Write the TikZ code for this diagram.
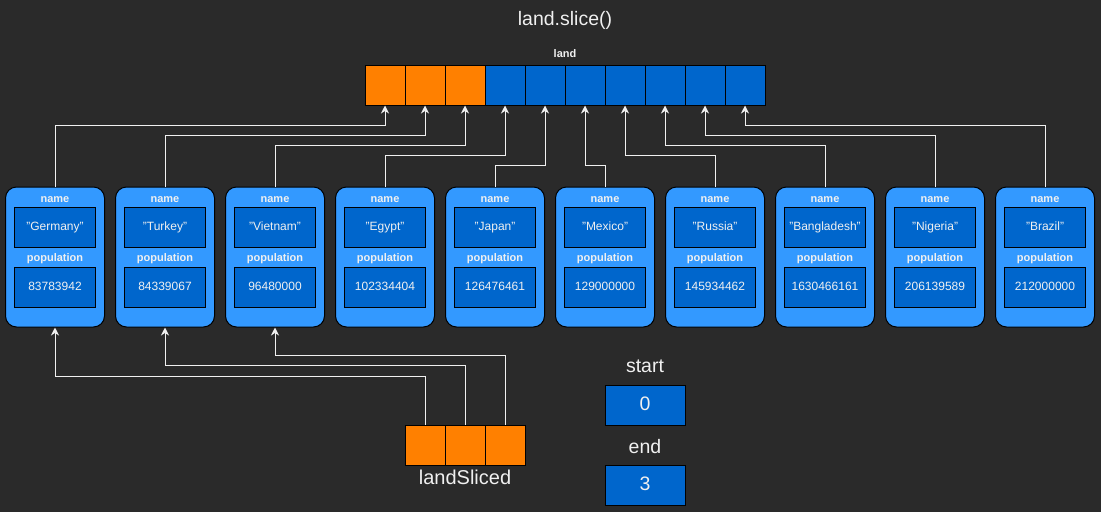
\documentclass[tikz,border=0pt]{standalone}
\usepackage{fontspec}
\setmainfont{Liberation Sans}
\usetikzlibrary{arrows.meta}
\definecolor{bg}{HTML}{2A2A2A}
\definecolor{cardc}{HTML}{3399FF}
\definecolor{innerc}{HTML}{0066CC}
\definecolor{orgc}{HTML}{FF8000}
\definecolor{txtc}{HTML}{F0F0F0}
\definecolor{linec}{HTML}{F0F0F0}
\begin{document}
\begin{tikzpicture}[x=1pt,y=-1pt,
  cellbox/.style={draw=black,line width=1pt,minimum width=40pt,minimum height=40pt,inner sep=0pt},
  cardbox/.style={draw=black,line width=1pt,fill=cardc,rounded corners=11pt,minimum width=99pt,minimum height=140pt,inner sep=0pt},
  innerbox/.style={draw=black,line width=1pt,fill=innerc,minimum width=81pt,minimum height=40pt,inner sep=0pt,text=txtc,font=\fontsize{12}{14}\selectfont,text height=8.6pt,text depth=2.6pt},
  lbl/.style={text=txtc,inner sep=0pt,font=\bfseries\fontsize{11}{13}\selectfont,text height=8pt,text depth=2.4pt},
  biglbl/.style={text=txtc,inner sep=0pt,font=\fontsize{19.5}{23}\selectfont,text height=14pt,text depth=4pt},
  conn/.style={draw=linec,line width=1pt,-{Stealth[length=8pt,width=8pt,inset=2.5pt]}}
]
\fill[bg] (0,0) rectangle (1101,512);
\useasboundingbox (0,0) rectangle (1101,512);

\node[biglbl] (title) at (565,20) {land.slice()};
\node[lbl] (landlbl) at (565,55) {land};

\foreach \i in {0,...,9}{
  \pgfmathsetmacro{\cx}{385+40*\i}
  \ifnum\i<3
    \node[cellbox,fill=orgc] (cell\i) at (\cx,85) {};
  \else
    \node[cellbox,fill=innerc] (cell\i) at (\cx,85) {};
  \fi
}

\foreach \i/\nm/\pop in {0/Germany/83783942,1/Turkey/84339067,2/Vietnam/96480000,3/Egypt/102334404,4/Japan/126476461,5/Mexico/129000000,6/Russia/145934462,7/Bangladesh/1630466161,8/Nigeria/206139589,9/Brazil/212000000}{
  \pgfmathsetmacro{\kx}{55+110*\i}
  \node[cardbox] (card\i) at (\kx,257) {};
  \node[lbl] (nl\i) at (\kx,200) {name};
  \node[innerbox] (nb\i) at (\kx,227) {"\nm"};
  \node[lbl] (pl\i) at (\kx,259) {population};
  \node[innerbox] (pb\i) at (\kx,287) {\pop};
}

\foreach \i/\hy in {0/125,1/135,2/145,3/155,4/165,5/165,6/155,7/145,8/135,9/125}{
  \draw[conn] (card\i.north) |- (cell\i.south |- {(0,\hy)}) -- (cell\i.south);
}

\node[cellbox,fill=orgc] (s0) at (425,445) {};
\node[cellbox,fill=orgc] (s1) at (465,445) {};
\node[cellbox,fill=orgc] (s2) at (505,445) {};
\node[biglbl,font=\fontsize{20}{24}\selectfont] (slbl) at (465,479) {landSliced};

\draw[conn] (s0.north) |- (card0.south |- {(0,376)}) -- (card0.south);
\draw[conn] (s1.north) |- (card1.south |- {(0,365)}) -- (card1.south);
\draw[conn] (s2.north) |- (card2.south |- {(0,355)}) -- (card2.south);

\node[biglbl] (startlbl) at (645,367) {start};
\node[innerbox,minimum width=80pt,font=\fontsize{19.5}{23}\selectfont,text height=14pt,text depth=4pt] (startbox) at (645,405) {0};
\node[biglbl] (endlbl) at (645,448) {end};
\node[innerbox,minimum width=80pt,font=\fontsize{19.5}{23}\selectfont,text height=14pt,text depth=4pt] (endbox) at (645,485) {3};
\end{tikzpicture}
\end{document}
